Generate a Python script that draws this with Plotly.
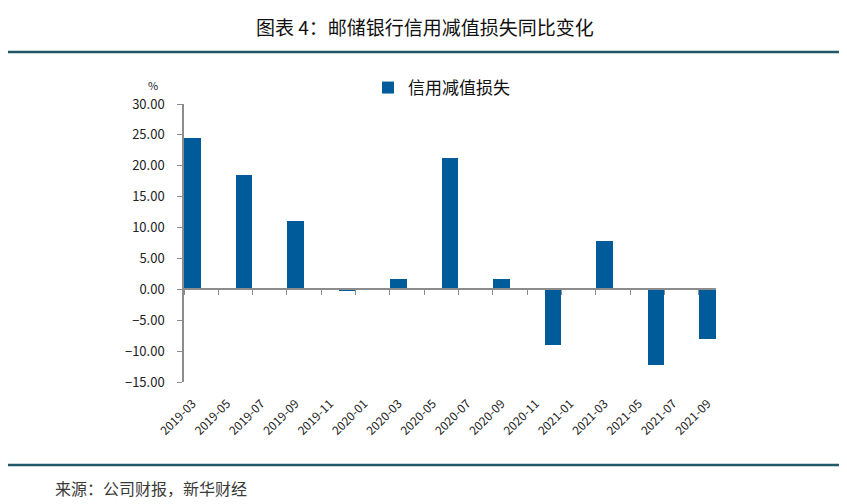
import plotly.graph_objects as go

# ---- data ----
months = ["2019-03", "2019-04", "2019-05", "2019-06", "2019-07", "2019-08", "2019-09",
          "2019-10", "2019-11", "2019-12", "2020-01", "2020-02", "2020-03", "2020-04",
          "2020-05", "2020-06", "2020-07", "2020-08", "2020-09", "2020-10", "2020-11",
          "2020-12", "2021-01", "2021-02", "2021-03", "2021-04", "2021-05", "2021-06",
          "2021-07", "2021-08", "2021-09"]
quarters = ["2019-03", "2019-06", "2019-09", "2019-12", "2020-03", "2020-06",
            "2020-09", "2020-12", "2021-03", "2021-06", "2021-09"]
credit_loss = [24.5, 18.5, 11.0, -0.2, 1.6, 21.3, 1.75, -9.0, 7.9, -12.3, -8.1]
tick_labels = months[::2]
series_name = "信用减值损失"
title_text = "图表 4：邮储银行信用减值损失同比变化"
source_text = "来源：公司财报，新华财经"

FONT = "Noto Sans CJK SC"
BAR = "#005B9A"
RULE = "#215868"
AXIS = "#8c8c8c"

# page offset (default body margin) compensation
OFF = 8
W, H = 847, 504
L, R, T, B = 184 - OFF, 716 - OFF, 104 - OFF, 382 - OFF


def px(x):
    return (x - OFF - L) / (R - L)


def py(y):
    return (B - (y - OFF)) / (B - T)


fig = go.Figure()
fig.add_trace(go.Bar(
    x=quarters, y=credit_loss, name=series_name,
    marker=dict(color=BAR, line=dict(width=0)),
    width=0.97, showlegend=True,
))
# empty trace to register the zero-line axis
fig.add_trace(go.Scatter(x=[], y=[], xaxis="x2", showlegend=False, hoverinfo="skip"))

fig.update_layout(
    width=W, height=H,
    margin=dict(l=L, r=W - R, t=T, b=H - B, autoexpand=False),
    paper_bgcolor="white", plot_bgcolor="white",
    font=dict(family=FONT, size=12, color="#222"),
    bargap=0,
    xaxis=dict(
        type="category", categoryorder="array", categoryarray=months,
        range=[-0.5, len(months) - 0.5],
        tickvals=tick_labels, ticktext=tick_labels, tickangle=-45,
        ticks="outside", ticklen=9, tickcolor="rgba(0,0,0,0)",
        showline=False, showgrid=False, zeroline=False,
        tickfont=dict(family=FONT, size=12, color="#222"),
    ),
    xaxis2=dict(
        overlaying="x", anchor="free", position=15 / 45,
        range=[-0.5, len(months) - 0.5], tick0=-0.5, dtick=2,
        ticks="outside", ticklen=5, tickcolor=AXIS, tickwidth=1,
        showline=True, linecolor=AXIS, linewidth=1.5,
        showticklabels=False, showgrid=False, zeroline=False,
    ),
    yaxis=dict(
        range=[-15, 30], dtick=5, tick0=0, tickformat=".2f",
        ticks="outside", ticklen=5, tickcolor=AXIS,
        showline=True, linecolor=AXIS, linewidth=1.5,
        showgrid=False, zeroline=False, ticklabelstandoff=10,
        tickfont=dict(family=FONT, size=13, color="#222"),
    ),
    legend=dict(
        x=px(368), y=py(70), xanchor="left", yanchor="top",
        orientation="h", font=dict(family=FONT, size=17, color="#111"),
        bgcolor="rgba(0,0,0,0)", itemwidth=30,
    ),
    annotations=[
        dict(text=title_text, xref="paper", yref="paper", x=px(425), y=py(27),
             xanchor="center", yanchor="middle", showarrow=False,
             font=dict(family=FONT, size=19, color="#111")),
        dict(text="%", xref="paper", yref="paper", x=px(153), y=py(85),
             xanchor="center", yanchor="middle", showarrow=False,
             font=dict(family=FONT, size=11, color="#222")),
        dict(text=source_text, xref="paper", yref="paper", x=px(53), y=py(488),
             xanchor="left", yanchor="middle", showarrow=False,
             font=dict(family=FONT, size=16, color="#3a3a3a")),
    ],
    shapes=[
        dict(type="line", xref="paper", yref="paper", x0=px(5), x1=px(841),
             y0=py(52), y1=py(52), line=dict(color=RULE, width=2.5)),
        dict(type="line", xref="paper", yref="paper", x0=px(7), x1=px(847),
             y0=py(465), y1=py(465), line=dict(color=RULE, width=2.5)),
    ],
)

fig.write_html("out.html")
